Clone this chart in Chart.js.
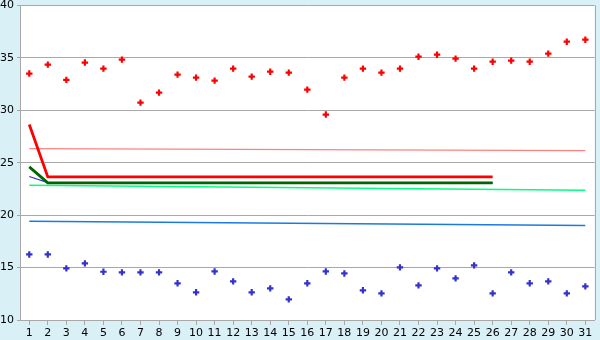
<!DOCTYPE html>
<html>
<head>
<meta charset="utf-8">
<script src="https://cdn.jsdelivr.net/npm/chart.js@4"></script>
<style>
  html, body { margin: 0; padding: 0; background: #d9f0f7; }
  #wrap { width: 600px; height: 340px; }
</style>
</head>
<body>
<div id="wrap"><canvas id="MyChart" width="600" height="340"></canvas></div>
<script>
const labels = ['1','2','3','4','5','6','7','8','9','10','11','12','13','14','15','16',
    '17','18','19','20','21','22','23','24','25','26','27','28','29','30','31'];

// scatter points
const redPoints = [33.5, 34.35, 32.9, 34.55, 33.97, 34.83, 30.73, 31.68, 33.4, 33.11,
    32.83, 33.97, 33.21, 33.68, 33.59, 31.97, 29.59, 33.11, 33.97, 33.59,
    33.97, 35.11, 35.3, 34.92, 33.97, 34.63, 34.73, 34.63, 35.4, 36.54, 36.73];
const bluePoints = [16.25, 16.25, 14.92, 15.4, 14.6, 14.54, 14.54, 14.54, 13.5, 12.64,
    14.63, 13.68, 12.64, 13.02, 11.97, 13.5, 14.63, 14.44, 12.83, 12.54,
    15.02, 13.3, 14.92, 13.97, 15.21, 12.54, 14.54, 13.5, 13.68, 12.54, 13.21];

// line vertices
const redLineX = ['1', '2', '26'];
const redLineY = [28.64, 23.65, 23.65];
const greenLineX = ['1', '2', '26'];
const greenLineY = [24.6, 23.08, 23.08];
const purpleLineX = ['1', '2', '26'];
const purpleLineY = [23.68, 23.1, 23.1];
const pinkLineX = ['1', '31'];
const pinkLineY = [26.35, 26.16];
const lightGreenLineX = ['1', '31'];
const lightGreenLineY = [22.85, 22.37];
const blueLineX = ['1', '31'];
const blueLineY = [19.42, 19.02];

const toXY = (xs, ys) => xs.map((x, i) => ({x: x, y: ys[i]}));

const lineSet = (xs, ys, color, width) => ({
    data: toXY(xs, ys),
    borderColor: color,
    backgroundColor: color,
    borderWidth: width,
    pointRadius: 0,
    tension: 0,
    fill: false
});

const pointSet = (vals, color) => ({
    data: vals,
    showLine: false,
    borderColor: color,
    backgroundColor: color,
    pointStyle: 'cross',
    pointRadius: 3.2,
    pointBorderWidth: 2.2,
    pointHoverRadius: 3.2
});

const frame = {
    id: 'frame',
    beforeDraw(chart) {
        const {ctx, chartArea: a} = chart;
        ctx.save();
        ctx.fillStyle = '#d9f0f7';
        ctx.fillRect(0, 0, chart.width, chart.height);
        ctx.fillStyle = '#ffffff';
        ctx.fillRect(a.left, a.top, a.right - a.left, a.bottom - a.top);
        ctx.restore();
    },
    beforeDatasetsDraw(chart) {
        const {ctx, chartArea: a} = chart;
        ctx.save();
        ctx.strokeStyle = '#a8a8a8';
        ctx.lineWidth = 1;
        ctx.beginPath();
        ctx.moveTo(Math.round(a.right) + 0.5, a.top);
        ctx.lineTo(Math.round(a.right) + 0.5, a.bottom);
        ctx.stroke();
        ctx.restore();
    }
};

const config = {
    type: 'line',
    data: {
        labels: labels,
        datasets: [
            pointSet(redPoints, '#ff0000'),
            pointSet(bluePoints, '#3333cc'),
            lineSet(redLineX, redLineY, '#ff0000', 2.8),
            lineSet(greenLineX, greenLineY, '#006400', 2.8),
            lineSet(purpleLineX, purpleLineY, '#3333cc', 1.2),
            lineSet(pinkLineX, pinkLineY, '#ff8080', 1.3),
            lineSet(lightGreenLineX, lightGreenLineY, '#00ff80', 1.5),
            lineSet(blueLineX, blueLineY, '#1a7ae0', 1.5)
        ]
    },
    options: {
        responsive: false,
        animation: false,
        events: [],
        layout: { padding: { top: 5, right: 5, left: 0, bottom: 0 } },
        plugins: { legend: { display: false }, tooltip: { enabled: false } },
        scales: {
            x: {
                type: 'category',
                offset: true,
                grid: { display: true, drawOnChartArea: false, tickLength: 5, color: '#a8a8a8', lineWidth: 1 },
                border: { color: '#a8a8a8', width: 1 },
                ticks: { color: '#000', font: { family: 'DejaVu Sans', size: 11 }, padding: 2, maxRotation: 0, autoSkip: false },
                afterFit: (s) => { s.height = 20; s.paddingLeft = 0; s.paddingRight = 0; }
            },
            y: {
                min: 10,
                max: 40,
                ticks: { stepSize: 5, color: '#000', font: { family: 'DejaVu Sans', size: 11 }, padding: 3 },
                grid: { color: '#a8a8a8', lineWidth: 1, tickLength: 3 },
                border: { color: '#a8a8a8', width: 1 },
                afterFit: (s) => { s.width = 20; s.paddingTop = 0; s.paddingBottom = 0; }
            }
        }
    },
    plugins: [frame]
};

const myChart = new Chart(document.getElementById('MyChart'), config);
</script>
</body>
</html>
